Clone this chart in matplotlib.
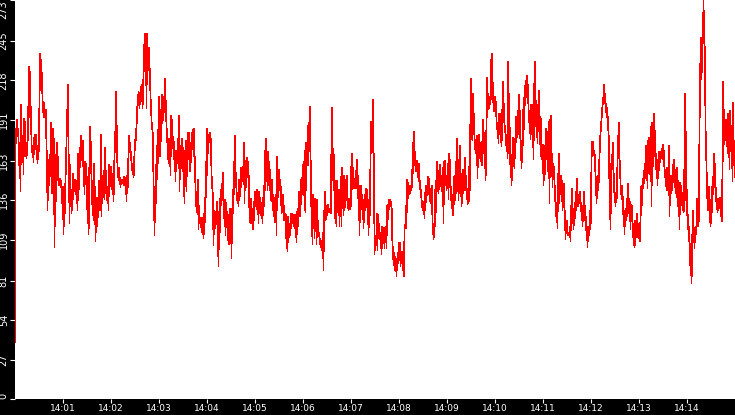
import numpy as np
import matplotlib
matplotlib.use('Agg')
import matplotlib.pyplot as plt

# valores, un bloque por minuto (14:00 ... 14:14)
m00 = [39, 170, 185, 175, 191, 180, 185, 177, 170, 155, 170, 142, 201, 166, 174, 168,
       180, 154, 192, 173, 190, 166, 173, 165, 175, 167, 200, 177, 227, 199, 224, 200,
       200, 173, 173, 167, 173, 162, 179, 170, 181, 171, 181, 175, 171, 161, 171, 169,
       170, 211, 236, 211, 232, 223, 223, 203, 203, 193, 203, 193, 193, 198, 198, 170,
       170, 129, 150, 146, 164, 146, 167, 164, 189, 141, 164, 141, 185, 138, 178, 104,
       149, 121, 167, 148, 175, 150, 166, 146, 151, 146, 151, 145, 149, 145, 145, 129]
m01 = [145, 113, 129, 127, 127, 156, 154, 180, 180, 206, 215, 167, 167, 120, 160, 141,
       143, 127, 143, 129, 154, 141, 149, 142, 150, 146, 149, 136, 145, 129, 168, 136,
       160, 152, 172, 159, 180, 164, 173, 159, 177, 151, 158, 140, 162, 151, 161, 141,
       152, 120, 136, 113, 125, 173, 186, 173, 176, 145, 149, 126, 143, 122, 161, 142,
       145, 108, 127, 118, 138, 118, 138, 129, 149, 129, 140, 129, 181, 125, 153, 137,
       149, 138, 156, 137, 172, 141, 156, 136, 145, 142, 145, 129, 160, 141, 156, 148]
m02 = [159, 150, 152, 140, 154, 135, 150, 169, 169, 190, 210, 189, 184, 152, 154, 150,
       158, 148, 151, 145, 150, 148, 150, 149, 150, 146, 152, 146, 151, 148, 151, 135,
       153, 141, 153, 170, 180, 169, 175, 169, 169, 161, 161, 154, 157, 152, 156, 170,
       170, 181, 177, 189, 189, 205, 205, 210, 205, 199, 206, 211, 210, 215, 215, 199,
       207, 224, 225, 250, 240, 250, 250, 199, 250, 221, 235, 225, 240, 227, 225, 205,
       205, 189, 189, 182, 182, 144, 145, 112, 139, 122, 160, 140, 173, 160, 184, 161]
m03 = [207, 166, 186, 166, 198, 180, 208, 191, 200, 191, 207, 198, 219, 202, 204, 184,
       185, 171, 171, 161, 178, 161, 173, 153, 194, 173, 191, 181, 177, 169, 176, 159,
       170, 149, 170, 159, 165, 161, 178, 166, 194, 142, 168, 153, 173, 158, 178, 158,
       172, 149, 150, 134, 170, 149, 177, 142, 174, 156, 182, 169, 182, 156, 174, 156,
       175, 171, 182, 171, 184, 166, 185, 166, 166, 140, 140, 128, 142, 133, 150, 116,
       132, 124, 124, 118, 124, 114, 124, 113, 118, 110, 127, 113, 138, 127, 162, 138]
m04 = [185, 162, 181, 176, 180, 176, 182, 178, 178, 152, 152, 141, 141, 105, 129, 122,
       128, 117, 128, 122, 135, 113, 113, 91, 128, 103, 137, 128, 143, 133, 147, 136,
       155, 128, 136, 118, 136, 112, 134, 127, 128, 113, 113, 106, 126, 106, 130, 122,
       130, 96, 130, 120, 143, 130, 162, 143, 180, 155, 155, 140, 141, 134, 138, 132,
       150, 136, 145, 141, 158, 145, 158, 154, 159, 152, 175, 134, 161, 143, 163, 145,
       165, 157, 162, 153, 153, 121, 128, 120, 137, 126, 130, 116, 127, 116, 135, 127]
m05 = [142, 132, 141, 130, 143, 132, 140, 120, 142, 133, 138, 126, 134, 128, 132, 120,
       138, 128, 146, 132, 170, 143, 178, 162, 162, 143, 169, 146, 162, 152, 157, 136,
       140, 135, 150, 129, 140, 134, 134, 121, 138, 132, 140, 112, 166, 135, 149, 138,
       157, 143, 150, 140, 145, 127, 134, 128, 140, 122, 132, 122, 127, 122, 126, 103,
       111, 101, 125, 107, 118, 112, 120, 112, 127, 118, 127, 124, 124, 118, 126, 120,
       126, 113, 119, 107, 128, 113, 130, 128, 142, 125, 137, 125, 150, 135, 151, 150]
m06 = [160, 150, 162, 129, 170, 128, 175, 160, 174, 160, 187, 160, 189, 178, 200, 162,
       163, 118, 124, 106, 140, 118, 133, 110, 137, 126, 134, 106, 136, 111, 122, 114,
       114, 110, 109, 104, 108, 102, 104, 101, 114, 88, 129, 114, 142, 122, 132, 123,
       132, 130, 133, 128, 130, 128, 130, 127, 167, 127, 199, 166, 171, 167, 167, 132,
       132, 120, 149, 118, 149, 136, 141, 133, 143, 118, 140, 125, 152, 118, 158, 133,
       141, 126, 153, 129, 149, 131, 150, 136, 153, 133, 133, 129, 137, 130, 132, 130]
m07 = [159, 132, 168, 157, 158, 144, 150, 144, 151, 144, 156, 144, 164, 143, 153, 130,
       146, 112, 140, 124, 146, 130, 140, 136, 136, 117, 130, 124, 140, 130, 144, 138,
       143, 126, 136, 112, 130, 124, 129, 169, 190, 168, 183, 169, 205, 167, 168, 99,
       108, 104, 112, 105, 127, 102, 126, 119, 120, 111, 114, 107, 111, 99, 118, 103,
       114, 110, 117, 103, 116, 109, 118, 103, 132, 118, 133, 128, 136, 130, 136, 132,
       135, 130, 130, 99, 104, 92, 100, 88, 97, 92, 95, 84, 96, 89, 100, 93]
m08 = [107, 95, 107, 91, 99, 93, 101, 92, 96, 84, 84, 118, 119, 117, 132, 117,
       150, 132, 148, 140, 143, 140, 146, 141, 146, 144, 157, 145, 175, 157, 183, 169,
       169, 156, 159, 156, 163, 157, 158, 149, 161, 148, 149, 141, 143, 136, 135, 129,
       135, 128, 132, 124, 141, 129, 146, 136, 146, 140, 152, 141, 151, 135, 144, 134,
       140, 134, 146, 118, 120, 109, 118, 111, 143, 118, 149, 133, 162, 144, 156, 141,
       148, 144, 160, 148, 153, 142, 150, 144, 158, 120, 162, 141, 163, 152, 153, 143]
m09 = [153, 145, 161, 137, 168, 145, 164, 136, 145, 132, 140, 126, 133, 126, 152, 133,
       153, 136, 162, 141, 178, 142, 164, 136, 161, 141, 173, 145, 154, 132, 152, 134,
       157, 141, 153, 143, 165, 143, 153, 142, 144, 133, 141, 134, 159, 135, 159, 200,
       219, 178, 199, 177, 209, 193, 195, 175, 177, 168, 175, 166, 180, 151, 175, 165,
       181, 165, 175, 166, 169, 160, 176, 160, 191, 168, 182, 175, 176, 150, 160, 194,
       220, 193, 209, 200, 203, 199, 207, 203, 232, 205, 236, 216, 216, 197, 202, 197]
m10 = [207, 202, 203, 189, 189, 182, 186, 175, 195, 183, 195, 176, 190, 173, 198, 177,
       217, 197, 202, 186, 187, 180, 181, 170, 179, 165, 231, 168, 209, 189, 179, 152,
       167, 146, 167, 150, 179, 159, 168, 158, 178, 167, 193, 177, 189, 179, 197, 181,
       208, 189, 197, 170, 176, 158, 177, 162, 198, 175, 206, 198, 214, 201, 218, 211,
       221, 214, 215, 197, 197, 186, 189, 178, 201, 181, 201, 175, 191, 164, 216, 177,
       231, 203, 204, 179, 191, 175, 201, 183, 211, 193, 193, 166, 192, 167, 168, 162]
m11 = [174, 146, 158, 154, 173, 154, 185, 174, 183, 168, 163, 152, 190, 134, 191, 177,
       194, 167, 168, 145, 161, 154, 159, 146, 146, 130, 134, 121, 130, 117, 154, 129,
       168, 134, 153, 148, 153, 142, 149, 129, 142, 134, 147, 124, 129, 109, 122, 119,
       122, 112, 114, 112, 114, 111, 118, 108, 132, 118, 144, 129, 130, 116, 125, 120,
       134, 124, 142, 129, 151, 132, 140, 132, 138, 134, 142, 133, 134, 126, 132, 118,
       130, 122, 142, 122, 132, 118, 125, 111, 118, 104, 117, 111, 118, 112, 129, 116]
m12 = [129, 166, 176, 166, 176, 167, 170, 166, 167, 151, 152, 134, 144, 138, 153, 146,
       152, 169, 169, 185, 183, 193, 193, 202, 202, 209, 215, 208, 209, 199, 202, 193,
       199, 193, 193, 180, 180, 138, 139, 116, 150, 166, 167, 157, 175, 154, 154, 136,
       141, 132, 140, 135, 141, 166, 165, 187, 189, 163, 163, 146, 146, 137, 146, 138,
       138, 121, 129, 113, 129, 125, 130, 122, 137, 125, 147, 130, 137, 122, 135, 116,
       133, 125, 132, 117, 120, 106, 108, 104, 122, 105, 122, 115, 127, 111, 120, 111]
m13 = [115, 108, 108, 126, 145, 126, 146, 143, 151, 144, 156, 151, 161, 151, 173, 157,
       162, 144, 177, 159, 179, 154, 173, 153, 186, 132, 189, 146, 188, 179, 195, 184,
       182, 159, 168, 152, 161, 146, 164, 151, 169, 159, 169, 167, 168, 165, 171, 164,
       174, 168, 170, 154, 157, 149, 152, 143, 158, 143, 158, 143, 173, 125, 149, 140,
       153, 141, 150, 143, 160, 150, 164, 145, 157, 141, 148, 138, 158, 132, 149, 129,
       146, 116, 148, 133, 146, 135, 141, 129, 137, 128, 129, 170, 209, 136, 183, 143]
m14 = [143, 118, 126, 112, 118, 103, 106, 85, 96, 79, 95, 120, 129, 113, 117, 103,
       117, 111, 118, 113, 137, 118, 132, 118, 130, 193, 193, 246, 247, 219, 232, 252,
       246, 273, 250, 240, 241, 183, 183, 155, 155, 129, 143, 129, 145, 126, 127, 118,
       136, 120, 145, 134, 152, 142, 168, 145, 161, 145, 143, 132, 133, 128, 137, 129,
       136, 132, 138, 127, 132, 122, 122, 163, 217, 163, 198, 177, 183, 177, 191, 182,
       184, 168, 195, 166, 185, 157, 197, 177, 187, 174, 177, 149, 203, 170, 177, 152]

minutos = [m00, m01, m02, m03, m04, m05, m06, m07, m08, m09, m10, m11, m12, m13, m14]
valores = [v for bloque in minutos for v in bloque]

periodo = 0.625  # segundos entre muestras
y_ticks = [0, 27, 54, 81, 109, 136, 163, 191, 218, 245, 273]
x_labels = ['14:01', '14:02', '14:03', '14:04', '14:05', '14:06', '14:07',
            '14:08', '14:09', '14:10', '14:11', '14:12', '14:13', '14:14']

t = np.arange(len(valores)) * periodo
x_pos = [(int(s.split(':')[1])) * 60 for s in x_labels]

fig = plt.figure(figsize=(7.35, 4.15), dpi=100, facecolor='black')
ax = fig.add_axes([15 / 735, 16 / 415, 720 / 735, 399 / 415])
ax.set_facecolor('white')
ax.plot(t, valores, color='red', linewidth=0.5, antialiased=False)

ax.set_xlim(0, 900)
ax.set_ylim(0, 273)
for s in ax.spines.values():
    s.set_visible(False)

ax.set_yticks(y_ticks)
ax.set_yticklabels([str(v) for v in y_ticks], rotation=90, va='center')
ax.set_xticks(x_pos)
ax.set_xticklabels(x_labels)
ax.tick_params(axis='y', colors='white', length=3.5, width=0.8, pad=1, labelsize=7)
ax.tick_params(axis='x', colors='white', length=3, width=0.8, pad=0.3, labelsize=6.5)

# primera y ultima etiqueta del eje y dentro de la figura
etiquetas = ax.get_yticklabels()
etiquetas[0].set_va('bottom')
etiquetas[-1].set_va('top')

fig.savefig('out.png', dpi=100, facecolor='black')
